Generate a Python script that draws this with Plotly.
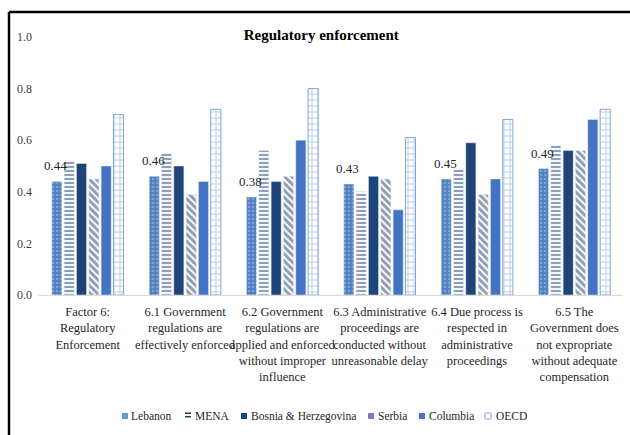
import plotly.graph_objects as go

categories = [
    "Factor 6:<br>Regulatory<br>Enforcement",
    "6.1 Government<br>regulations are<br>effectively enforced",
    "6.2 Government<br>regulations are<br>applied and enforced<br>without improper<br>influence",
    "6.3 Administrative<br>proceedings are<br>conducted without<br>unreasonable delay",
    "6.4 Due process is<br>respected in<br>administrative<br>proceedings",
    "6.5 The<br>Government does<br>not expropriate<br>without adequate<br>compensation",
]

series_names = ["Lebanon", "MENA", "Bosnia & Herzegovina", "Serbia", "Columbia", "OECD"]

lebanon = [0.44, 0.46, 0.38, 0.43, 0.45, 0.49]
mena = [0.52, 0.55, 0.56, 0.40, 0.49, 0.58]
bosnia = [0.51, 0.50, 0.44, 0.46, 0.59, 0.56]
serbia = [0.45, 0.39, 0.46, 0.45, 0.39, 0.56]
columbia = [0.50, 0.44, 0.60, 0.33, 0.45, 0.68]
oecd = [0.70, 0.72, 0.80, 0.61, 0.68, 0.72]

FONT = "Liberation Serif, Times New Roman, serif"

# plot area in pixels: x 39..623, y 37..295 (0..1 on the value axis)
PLOT_L, PLOT_W = 39, 584
PLOT_B, PLOT_H = 295, 258
BARGAP = 0.24
N_SERIES = len(series_names)


def px_x(px):
    return (px - PLOT_L) / PLOT_W


def px_y(py):
    return (PLOT_B - py) / PLOT_H


fig = go.Figure()

fig.add_trace(go.Bar(
    name=series_names[0], x=categories, y=lebanon,
    marker=dict(color="#4f7fbf",
                pattern=dict(shape=".", bgcolor="#4f7fbf", fgcolor="#a9c4e6",
                             size=4, solidity=0.35)),
))
fig.add_trace(go.Bar(
    name=series_names[1], x=categories, y=mena,
    marker=dict(color="#1f3f73",
                pattern=dict(shape="-", bgcolor="white", fgcolor="#1f3f73",
                             size=4, solidity=0.55)),
))
fig.add_trace(go.Bar(
    name=series_names[2], x=categories, y=bosnia,
    marker=dict(color="#1f4478"),
))
fig.add_trace(go.Bar(
    name=series_names[3], x=categories, y=serbia,
    marker=dict(color="#1f3a68",
                pattern=dict(shape="\\", bgcolor="white", fgcolor="#1f3a68",
                             size=5, solidity=0.6)),
))
fig.add_trace(go.Bar(
    name=series_names[4], x=categories, y=columbia,
    marker=dict(color="#4472c4"),
))
fig.add_trace(go.Bar(
    name=series_names[5], x=categories, y=oecd,
    marker=dict(color="#7ea6d8",
                line=dict(color="#7ea6d8", width=1),
                pattern=dict(shape="+", bgcolor="white", fgcolor="#6f9bd3",
                             size=6, solidity=0.3)),
))

shapes = []
annotations = []

# value labels for Lebanon, drawn above the other bars of each group
cat_step_px = PLOT_W / len(categories)
slot_px = cat_step_px * (1 - BARGAP) / N_SERIES
lebanon_offset_px = -(N_SERIES - 1) / 2 * slot_px
for cat, v in zip(categories, lebanon):
    annotations.append(dict(x=cat, y=v, xref="x", yref="y", text=f"{v:.2f}",
                            showarrow=False, xanchor="center", yanchor="bottom",
                            xshift=lebanon_offset_px - 1, yshift=6,
                            font=dict(family=FONT, size=13, color="#262626")))

# frame lines along the top and left edges
shapes.append(dict(type="line", xref="paper", yref="paper",
                   x0=px_x(9), x1=px_x(640), y0=px_y(12), y1=px_y(12),
                   line=dict(color="black", width=2.5)))
shapes.append(dict(type="line", xref="paper", yref="paper",
                   x0=px_x(9), x1=px_x(9), y0=px_y(12), y1=px_y(445),
                   line=dict(color="black", width=2.5)))

# compact legend: small swatch followed by the series name
legend_symbol_x = [125, 188, 244, 371, 422, 488]
legend_text_x = [129, 193, 249, 376, 427, 494]
legend_fill = ["#6f95cc", None, "#1f4478", "#6f84a8", "#4472c4", None]
LEG_Y = 416
for name, sx, tx, fill in zip(series_names, legend_symbol_x, legend_text_x, legend_fill):
    if name == "MENA":
        for dy in (-2, 1.5):
            shapes.append(dict(type="rect", xref="paper", yref="paper",
                               x0=px_x(sx - 3), x1=px_x(sx + 3),
                               y0=px_y(LEG_Y + dy), y1=px_y(LEG_Y + dy - 1.5),
                               fillcolor="#1f3f73", line=dict(width=0)))
    elif name == "OECD":
        shapes.append(dict(type="rect", xref="paper", yref="paper",
                           x0=px_x(sx - 3), x1=px_x(sx + 3),
                           y0=px_y(LEG_Y + 3), y1=px_y(LEG_Y - 3),
                           fillcolor="white", line=dict(color="#7ea6d8", width=1)))
    else:
        shapes.append(dict(type="rect", xref="paper", yref="paper",
                           x0=px_x(sx - 3), x1=px_x(sx + 3),
                           y0=px_y(LEG_Y + 3), y1=px_y(LEG_Y - 3),
                           fillcolor=fill, line=dict(width=0)))
    annotations.append(dict(xref="paper", yref="paper", x=px_x(tx), y=px_y(LEG_Y),
                            xanchor="left", yanchor="middle", showarrow=False,
                            text=name,
                            font=dict(family=FONT, size=11.5, color="#262626")))

fig.update_layout(
    width=630, height=435,
    margin=dict(l=39, r=7, t=37, b=140),
    paper_bgcolor="white", plot_bgcolor="white",
    barmode="group", bargap=BARGAP, bargroupgap=0.18,
    showlegend=False,
    font=dict(family=FONT, size=12, color="#404040"),
    title=dict(text="<b>Regulatory enforcement</b>", x=0.51, xanchor="center",
               y=0.921, yanchor="middle",
               font=dict(family=FONT, size=15, color="black")),
    xaxis=dict(showgrid=False, showline=True, linecolor="#d9d9d9", linewidth=1,
               ticks="", tickfont=dict(family=FONT, size=12.5, color="#262626"),
               tickangle=0, ticklabelstandoff=5),
    yaxis=dict(range=[0, 1.0], dtick=0.2, tickformat=".1f", showgrid=False,
               zeroline=False, showline=False, ticks="",
               tickfont=dict(family=FONT, size=12, color="#404040"),
               ticklabelstandoff=6),
    shapes=shapes,
    annotations=annotations,
)

fig.write_html("out.html")
